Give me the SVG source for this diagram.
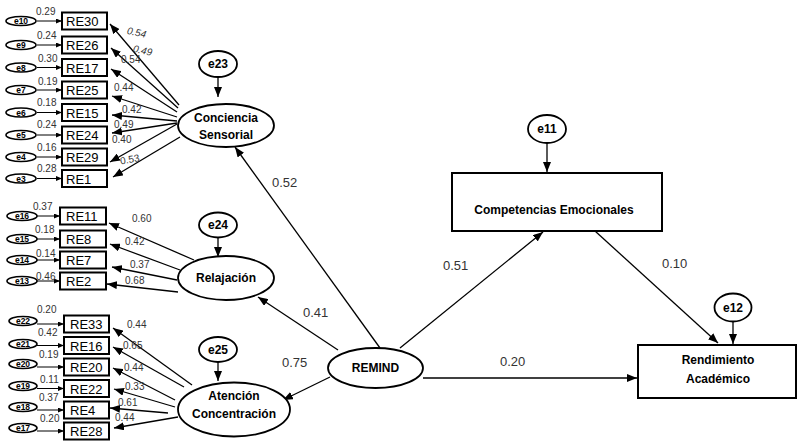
<svg xmlns="http://www.w3.org/2000/svg" width="801" height="448" viewBox="0 0 801 448">
<defs>
<marker id="ah" markerWidth="10" markerHeight="8" refX="10" refY="4" orient="auto" markerUnits="userSpaceOnUse"><path d="M0,0 L10,4 L0,8 z" fill="#000"/></marker>
<marker id="as" markerWidth="6" markerHeight="5" refX="6" refY="2.5" orient="auto" markerUnits="userSpaceOnUse"><path d="M0,0 L6,2.5 L0,5 z" fill="#000"/></marker>
</defs>
<style>
.bx{fill:#fff;stroke:#000;stroke-width:2}
.big{fill:#fff;stroke:#000;stroke-width:2}
.el{fill:#fff;stroke:#000;stroke-width:1.8}
.er{fill:#fff;stroke:#000;stroke-width:1.6}
.ln{stroke:#000;stroke-width:1.3;fill:none;marker-end:url(#ah)}
.sl{stroke:#000;stroke-width:1;fill:none;marker-end:url(#as)}
.rt{font-family:"Liberation Sans",Arial,sans-serif;font-size:13px;fill:#000}
.et{font-family:"Liberation Sans",Arial,sans-serif;font-size:8.5px;font-weight:bold;fill:#000;text-anchor:middle}
.eb{font-family:"Liberation Sans",Arial,sans-serif;font-size:12px;font-weight:bold;fill:#000;text-anchor:middle}
.nt{font-family:"Liberation Sans",Arial,sans-serif;font-size:12px;font-weight:bold;fill:#000;text-anchor:middle}
.sm{font-family:"Liberation Sans",Arial,sans-serif;font-size:10px;fill:#333}
.pc{font-family:"Liberation Sans",Arial,sans-serif;font-size:13px;fill:#333}
</style>
<rect width="801" height="448" fill="#fff"/>

<g id="connectors">
<!-- error to RE arrows, section 1 -->
<line class="sl" x1="37" y1="21" x2="62" y2="21"/>
<line class="sl" x1="37" y1="45" x2="62" y2="45"/>
<line class="sl" x1="37" y1="67.5" x2="62" y2="67.5"/>
<line class="sl" x1="37" y1="90" x2="62" y2="90"/>
<line class="sl" x1="37" y1="112.5" x2="62" y2="112.5"/>
<line class="sl" x1="37" y1="135" x2="62" y2="135"/>
<line class="sl" x1="37" y1="157" x2="62" y2="157"/>
<line class="sl" x1="37" y1="178.5" x2="62" y2="178.5"/>
<!-- section 2 -->
<line class="sl" x1="37" y1="216" x2="60" y2="216"/>
<line class="sl" x1="37" y1="239" x2="60" y2="239"/>
<line class="sl" x1="37" y1="260" x2="60" y2="260"/>
<line class="sl" x1="37" y1="281" x2="60" y2="281"/>
<!-- section 3 -->
<line class="sl" x1="37" y1="324" x2="64" y2="324"/>
<line class="sl" x1="37" y1="345.5" x2="64" y2="345.5"/>
<line class="sl" x1="37" y1="367" x2="64" y2="367"/>
<line class="sl" x1="37" y1="388.5" x2="64" y2="388.5"/>
<line class="sl" x1="37" y1="410" x2="64" y2="410"/>
<line class="sl" x1="37" y1="431" x2="64" y2="431"/>

<!-- Conciencia loadings -->
<line class="ln" x1="179" y1="105" x2="110" y2="24"/>
<line class="ln" x1="178" y1="108" x2="111" y2="48"/>
<line class="ln" x1="177" y1="112" x2="111" y2="69"/>
<line class="ln" x1="177" y1="117" x2="112" y2="96"/>
<line class="ln" x1="177" y1="121" x2="112" y2="115"/>
<line class="ln" x1="177" y1="123" x2="112" y2="133"/>
<line class="ln" x1="177" y1="124" x2="110" y2="162"/>
<line class="ln" x1="180" y1="137" x2="113" y2="177"/>

<!-- Relajacion loadings -->
<line class="ln" x1="194" y1="260" x2="109" y2="223"/>
<line class="ln" x1="180" y1="270" x2="110" y2="244"/>
<line class="ln" x1="177" y1="280" x2="112" y2="267"/>
<line class="ln" x1="178" y1="292" x2="107" y2="284"/>

<!-- Atencion loadings -->
<line class="ln" x1="192" y1="385" x2="113" y2="328"/>
<line class="ln" x1="184" y1="387" x2="113" y2="347"/>
<line class="ln" x1="175" y1="400" x2="113" y2="368"/>
<line class="ln" x1="175" y1="407" x2="114" y2="389"/>
<line class="ln" x1="168" y1="413" x2="110" y2="408"/>
<line class="ln" x1="178" y1="417" x2="114" y2="428"/>

<!-- disturbance arrows -->
<line class="ln" x1="218" y1="77" x2="218" y2="97"/>
<line class="ln" x1="218" y1="237" x2="218" y2="257"/>
<line class="ln" x1="218" y1="362" x2="218" y2="381"/>
<line class="ln" x1="547" y1="143" x2="547" y2="172"/>
<line class="ln" x1="733" y1="321" x2="733" y2="344"/>

<!-- structural paths -->
<line class="ln" x1="380" y1="348" x2="235" y2="147"/>
<line class="ln" x1="338" y1="350" x2="258" y2="297"/>
<line class="ln" x1="330" y1="377" x2="283" y2="400"/>
<line class="ln" x1="400" y1="348" x2="543" y2="232"/>
<line class="ln" x1="423" y1="378" x2="637" y2="378"/>
<line class="ln" x1="595" y1="231" x2="718" y2="343"/>
</g>

<g id="labels">
<!-- variances section 1 -->
<text class="sm" x="36" y="15">0.29</text>
<text class="sm" x="37" y="39">0.24</text>
<text class="sm" x="38" y="62">0.30</text>
<text class="sm" x="38" y="85">0.19</text>
<text class="sm" x="37" y="106">0.18</text>
<text class="sm" x="37" y="128">0.24</text>
<text class="sm" x="37" y="151">0.16</text>
<text class="sm" x="37" y="172">0.28</text>
<!-- loadings section 1 -->
<text class="sm" x="127" y="36" font-style="italic" transform="rotate(12 137 32)">0.54</text>
<text class="sm" x="133" y="54" font-style="italic" transform="rotate(12 143 50)">0.49</text>
<text class="sm" x="121" y="63">0.54</text>
<text class="sm" x="114" y="91">0.44</text>
<text class="sm" x="122" y="113">0.42</text>
<text class="sm" x="114" y="128">0.49</text>
<text class="sm" x="112" y="143">0.40</text>
<text class="sm" x="120" y="163" transform="rotate(-10 129 159)">0.53</text>
<!-- section 2 -->
<text class="sm" x="33" y="210">0.37</text>
<text class="sm" x="35" y="233">0.18</text>
<text class="sm" x="36" y="257">0.14</text>
<text class="sm" x="36" y="280">0.46</text>
<text class="sm" x="132" y="222">0.60</text>
<text class="sm" x="125" y="245">0.42</text>
<text class="sm" x="130" y="268">0.37</text>
<text class="sm" x="125" y="284">0.68</text>
<!-- section 3 -->
<text class="sm" x="37" y="313">0.20</text>
<text class="sm" x="38" y="336">0.42</text>
<text class="sm" x="39" y="358">0.19</text>
<text class="sm" x="40" y="383">0.11</text>
<text class="sm" x="39" y="401">0.37</text>
<text class="sm" x="40" y="422">0.20</text>
<text class="sm" x="127" y="328">0.44</text>
<text class="sm" x="123" y="349">0.65</text>
<text class="sm" x="124" y="371">0.44</text>
<text class="sm" x="125" y="390">0.33</text>
<text class="sm" x="118" y="406">0.61</text>
<text class="sm" x="115" y="421">0.44</text>
<!-- path coefficients -->
<text class="pc" x="272" y="187">0.52</text>
<text class="pc" x="303" y="317">0.41</text>
<text class="pc" x="282" y="367">0.75</text>
<text class="pc" x="443" y="270">0.51</text>
<text class="pc" x="500" y="366">0.20</text>
<text class="pc" x="662" y="268">0.10</text>
</g>

<!-- error terms section 1 -->
<g id="e10"><ellipse class="er" cx="21" cy="21" rx="15" ry="4.5"/><text class="et" x="21" y="24">e10</text></g>
<g id="e9"><ellipse class="er" cx="21" cy="45" rx="15" ry="4.5"/><text class="et" x="21" y="48">e9</text></g>
<g id="e8"><ellipse class="er" cx="21" cy="67.5" rx="15" ry="4.5"/><text class="et" x="21" y="70.5">e8</text></g>
<g id="e7"><ellipse class="er" cx="21" cy="90" rx="15" ry="4.5"/><text class="et" x="21" y="93">e7</text></g>
<g id="e6"><ellipse class="er" cx="21" cy="112.5" rx="15" ry="4.5"/><text class="et" x="21" y="115.5">e6</text></g>
<g id="e5"><ellipse class="er" cx="21" cy="135" rx="15" ry="4.5"/><text class="et" x="21" y="138">e5</text></g>
<g id="e4"><ellipse class="er" cx="21" cy="157" rx="15" ry="4.5"/><text class="et" x="21" y="160">e4</text></g>
<g id="e3"><ellipse class="er" cx="21" cy="178.5" rx="15" ry="4.5"/><text class="et" x="21" y="181.5">e3</text></g>
<!-- section 2 -->
<g id="e16"><ellipse class="er" cx="22" cy="216" rx="15" ry="4.5"/><text class="et" x="22" y="219">e16</text></g>
<g id="e15"><ellipse class="er" cx="22" cy="239" rx="15" ry="4.5"/><text class="et" x="22" y="242">e15</text></g>
<g id="e14"><ellipse class="er" cx="22" cy="260" rx="15" ry="4.5"/><text class="et" x="22" y="263">e14</text></g>
<g id="e13"><ellipse class="er" cx="22" cy="281" rx="15" ry="4.5"/><text class="et" x="22" y="284">e13</text></g>
<!-- section 3 -->
<g id="e22"><ellipse class="er" cx="23" cy="321" rx="14" ry="4.5"/><text class="et" x="23" y="324">e22</text></g>
<g id="e21"><ellipse class="er" cx="23" cy="344" rx="14" ry="4.5"/><text class="et" x="23" y="347">e21</text></g>
<g id="e20"><ellipse class="er" cx="23" cy="364" rx="14" ry="4.5"/><text class="et" x="23" y="367">e20</text></g>
<g id="e19"><ellipse class="er" cx="23" cy="386" rx="14" ry="4.5"/><text class="et" x="23" y="389">e19</text></g>
<g id="e18"><ellipse class="er" cx="23" cy="407" rx="14" ry="4.5"/><text class="et" x="23" y="410">e18</text></g>
<g id="e17"><ellipse class="er" cx="23" cy="428" rx="14" ry="4.5"/><text class="et" x="23" y="431">e17</text></g>

<!-- RE boxes section 1 -->
<g id="RE30"><rect class="bx" x="62" y="12.5" width="45" height="17"/><text class="rt" x="66" y="26">RE30</text></g>
<g id="RE26"><rect class="bx" x="62" y="36.5" width="45" height="17"/><text class="rt" x="66" y="50">RE26</text></g>
<g id="RE17"><rect class="bx" x="62" y="59" width="45" height="17"/><text class="rt" x="66" y="72.5">RE17</text></g>
<g id="RE25"><rect class="bx" x="62" y="81.5" width="45" height="17"/><text class="rt" x="66" y="95">RE25</text></g>
<g id="RE15"><rect class="bx" x="62" y="104" width="45" height="17"/><text class="rt" x="66" y="117.5">RE15</text></g>
<g id="RE24"><rect class="bx" x="62" y="126.5" width="45" height="17"/><text class="rt" x="66" y="140">RE24</text></g>
<g id="RE29"><rect class="bx" x="62" y="148.5" width="45" height="17"/><text class="rt" x="66" y="162">RE29</text></g>
<g id="RE1"><rect class="bx" x="62" y="170" width="45" height="17"/><text class="rt" x="66" y="183.5">RE1</text></g>
<!-- section 2 -->
<g id="RE11"><rect class="bx" x="60" y="207.5" width="46" height="17"/><text class="rt" x="66" y="221">RE11</text></g>
<g id="RE8"><rect class="bx" x="60" y="230.5" width="46" height="17"/><text class="rt" x="66" y="244">RE8</text></g>
<g id="RE7"><rect class="bx" x="60" y="251.5" width="46" height="17"/><text class="rt" x="66" y="265">RE7</text></g>
<g id="RE2"><rect class="bx" x="60" y="272.5" width="46" height="17"/><text class="rt" x="66" y="286">RE2</text></g>
<!-- section 3 -->
<g id="RE33"><rect class="bx" x="64" y="315.5" width="45" height="17"/><text class="rt" x="70" y="329">RE33</text></g>
<g id="RE16"><rect class="bx" x="64" y="337" width="45" height="17"/><text class="rt" x="70" y="350.5">RE16</text></g>
<g id="RE20"><rect class="bx" x="64" y="358.5" width="45" height="17"/><text class="rt" x="70" y="372">RE20</text></g>
<g id="RE22"><rect class="bx" x="64" y="380" width="45" height="17"/><text class="rt" x="70" y="393.5">RE22</text></g>
<g id="RE4"><rect class="bx" x="64" y="401.5" width="45" height="17"/><text class="rt" x="70" y="415">RE4</text></g>
<g id="RE28"><rect class="bx" x="64" y="422.5" width="45" height="17"/><text class="rt" x="70" y="436">RE28</text></g>

<!-- disturbances -->
<g id="e23"><ellipse class="el" cx="218" cy="64" rx="19" ry="13"/><text class="eb" x="218" y="68">e23</text></g>
<g id="e24"><ellipse class="el" cx="218" cy="225" rx="19" ry="12.5"/><text class="eb" x="218" y="229">e24</text></g>
<g id="e25"><ellipse class="el" cx="218" cy="349.5" rx="19" ry="12.5"/><text class="eb" x="218" y="353.5">e25</text></g>
<g id="e11"><ellipse class="el" cx="547" cy="129" rx="19" ry="14"/><text class="eb" x="547" y="133">e11</text></g>
<g id="e12"><ellipse class="el" cx="733" cy="307.5" rx="18.5" ry="14"/><text class="eb" x="733" y="311.5">e12</text></g>

<!-- latent factors -->
<g id="ConcienciaSensorial"><ellipse class="el" cx="226" cy="125.5" rx="48" ry="21.5"/><text class="nt" x="226" y="122">Conciencia</text><text class="nt" x="226" y="139">Sensorial</text></g>
<g id="Relajacion"><ellipse class="el" cx="226" cy="278" rx="48" ry="22"/><text class="nt" x="226" y="282">Relajación</text></g>
<g id="AtencionConcentracion"><ellipse class="el" cx="234" cy="409.5" rx="56" ry="27"/><text class="nt" x="234" y="400">Atención</text><text class="nt" x="234" y="418">Concentración</text></g>
<g id="REMIND"><ellipse class="el" cx="375.5" cy="368" rx="47.5" ry="20"/><text class="nt" x="375.5" y="372">REMIND</text></g>

<!-- observed outcomes -->
<g id="CompetenciasEmocionales"><rect class="big" x="452" y="173" width="210" height="58"/><text class="nt" x="554" y="214">Competencias Emocionales</text></g>
<g id="RendimientoAcademico"><rect class="big" x="638" y="345" width="158" height="53"/><text class="nt" x="718" y="364">Rendimiento</text><text class="nt" x="718" y="383">Académico</text></g>
</svg>
